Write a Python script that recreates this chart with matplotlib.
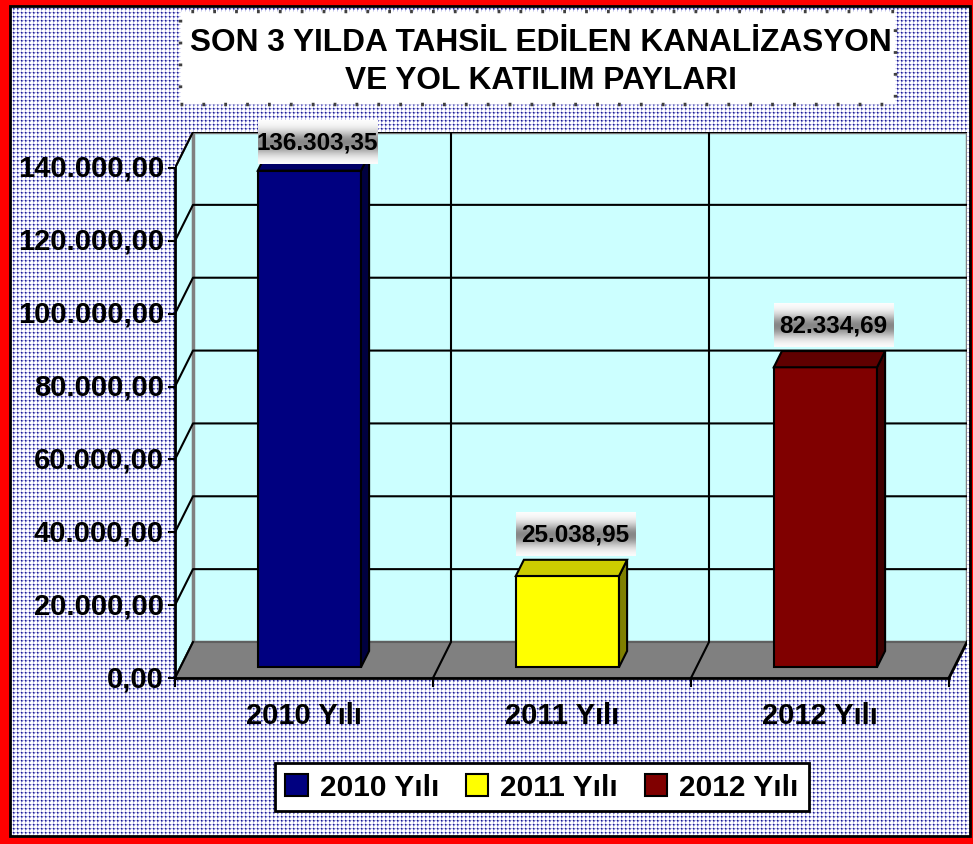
import numpy as np
import matplotlib.pyplot as plt
from matplotlib.patches import Polygon, Rectangle, Patch

plt.rcParams['font.family'] = ['Liberation Sans', 'DejaVu Sans']

# data
years = ['2010 Yılı', '2011 Yılı', '2012 Yılı']
values = [136303.35, 25038.95, 82334.69]
yticks = [0, 20000, 40000, 60000, 80000, 100000, 120000, 140000]
title = 'SON 3 YILDA TAHSİL EDİLEN KANALİZASYON\nVE YOL KATILIM PAYLARI'

colors = ['#000080', '#FFFF00', '#800000']
side_colors = ['#000040', '#808000', '#400000']
top_colors = ['#000066', '#cccc00', '#600000']
wall = '#CCFFFF'


def tr_num(v):
    s = f'{v:,.2f}'
    return s.replace(',', 'X').replace('.', ',').replace('X', '.')


W, H = 973, 845
fig = plt.figure(figsize=(W / 100, H / 100), dpi=100)


def fx(px):
    return px / W


def fy(py):
    return 1 - py / H


# dotted background
tile = np.ones((4, 4, 3))
tile[0, 1] = tile[1, 0] = tile[1, 3] = tile[3, 1] = (0.78, 0.78, 0.93)
tile[1, 1] = (0.12, 0.12, 0.55)
tile[1, 2] = tile[2, 1] = (0.45, 0.45, 0.78)
tile[2, 2] = (0.65, 0.65, 0.88)
bg = np.tile(tile, (H // 4 + 1, W // 4 + 1, 1))[:H, :W]
fig.figimage(bg, 0, 0, zorder=-1)

# plot area in pixels: front axis x=175, floor front y=679, back wall top y=133
n = len(values)
ymax = yticks[-1]
px_x = 258.0                 # pixels per category
px_y = 510.0 / ymax          # pixels per value unit
DX = 18 / px_x
DY = 36 / px_y

ax = fig.add_axes([fx(175), fy(679), (967 - 175) / W, (679 - 133) / H])
ax.set_axis_off()
xlim = (0, n + DX)
ylim = (0, ymax + DY)

# walls and floor
ax.add_patch(Polygon([(0, 0), (DX, DY), (DX, ymax + DY), (0, ymax)],
                     fc=wall, ec='#808080', lw=1.5, zorder=1))
ax.add_patch(Rectangle((DX, DY), n, ymax, fc=wall, ec='#808080', lw=2.5, zorder=1))
ax.add_patch(Polygon([(0, 0), (n, 0), (n + DX, DY), (DX, DY)],
                     fc='#808080', ec='#606060', lw=1.5, zorder=1.5))

for v in yticks[1:]:
    ax.plot([0, DX, n + DX], [v, v + DY, v + DY], color='k', lw=1.5, zorder=2)
for i in range(1, n):
    ax.plot([i, i + DX, i + DX], [0, DY, ymax + DY], color='k', lw=1.5, zorder=2)

# axes lines
ax.plot([0, 0], [0, ymax], color='k', lw=2, zorder=2, clip_on=False)
ax.plot([0, n], [0, 0], color='k', lw=2, zorder=2, clip_on=False)
ax.plot([0, DX], [0, DY], color='k', lw=1.5, zorder=2)
ax.plot([n, n + DX], [0, DY], color='k', lw=2, zorder=2)
for v in yticks:
    ax.plot([-6 / px_x, 0], [v, v], color='k', lw=1.5, clip_on=False)
    ax.text(-11 / px_x, v, tr_num(v), ha='right', va='center', fontsize=21,
            fontweight='bold', clip_on=False)
for i in range(n + 1):
    ax.plot([i, i], [0, -8 / px_y], color='k', lw=1.5, clip_on=False)
for i, lab in enumerate(years):
    ax.text(i + 0.5, -37 / px_y, lab, ha='center', va='center', fontsize=21,
            fontweight='bold', clip_on=False)

# bars
w = 0.4
bdx, bdy = 0.45 * DX, 0.45 * DY
grad_t = np.linspace(0, 1, 44)
grad = 1 - 0.47 * np.exp(-((grad_t - 0.52) / 0.27) ** 2)
grad_img = np.repeat(grad[:, None], 10, axis=1)
for i, v in enumerate(values):
    x0 = i + 0.5 - w / 2 + 0.3 * DX
    y0 = 0.3 * DY
    ax.add_patch(Rectangle((x0, y0), w, v, fc=colors[i], ec='k', lw=1.5, zorder=3))
    ax.add_patch(Polygon([(x0 + w, y0), (x0 + w + bdx, y0 + bdy),
                          (x0 + w + bdx, y0 + bdy + v), (x0 + w, y0 + v)],
                         fc=side_colors[i], ec='k', lw=1.5, zorder=3))
    ax.add_patch(Polygon([(x0, y0 + v), (x0 + bdx, y0 + v + bdy),
                          (x0 + w + bdx, y0 + v + bdy), (x0 + w, y0 + v)],
                         fc=top_colors[i], ec='k', lw=1.5, zorder=3))
    # value label with grey gradient box
    cx = x0 + w / 2 + bdx
    cy = min(y0 + bdy + v + 26 / px_y, ymax + DY - 10 / px_y)
    hw, hh = 60 / px_x, 22 / px_y
    ax.imshow(grad_img, cmap='gray', vmin=0, vmax=1, aspect='auto',
              extent=(cx - hw, cx + hw, cy - hh, cy + hh), zorder=4,
              interpolation='bilinear', clip_on=False)
    ax.text(cx, cy, tr_num(v), ha='center', va='center', fontsize=17.5,
            fontweight='bold', zorder=5, clip_on=False)

ax.set_xlim(xlim)
ax.set_ylim(ylim)

# title box
fig.patches.append(Rectangle((fx(180), fy(105)), fx(895) - fx(180), fy(12) - fy(105),
                             transform=fig.transFigure, fc='white', ec='#404040',
                             lw=2.5, ls=(0, (0.8, 5.5)), zorder=4))
fig.text(fx(541), fy(62), title, ha='center', va='center', fontsize=22.8,
         fontweight='bold', linespacing=1.38, zorder=5)

# legend
handles = [Patch(fc=c, ec='k', lw=1.5) for c in colors]
leg = fig.legend(handles, years, loc='center', bbox_to_anchor=(fx(542), fy(788)),
                 ncol=3, prop={'weight': 'bold', 'size': 21.5}, frameon=True,
                 fancybox=False, edgecolor='k', framealpha=1, handlelength=0.75,
                 handleheight=0.75, handletextpad=0.4, columnspacing=0.9,
                 borderpad=0.35)
leg.get_frame().set_linewidth(2)

# red frame
for (x, y, ww, hh) in [(0, 0, 10, H), (0, 0, W, 7), (0, 837, W, 8), (970, 0, 3, H)]:
    fig.patches.append(Rectangle((fx(x), fy(y + hh)), ww / W, hh / H,
                                 transform=fig.transFigure, fc='red', ec='none', zorder=10))
fig.patches.append(Rectangle((fx(10), fy(837)), fx(970) - fx(10), fy(7) - fy(837),
                             transform=fig.transFigure, fill=False, ec='k', lw=2, zorder=10))

fig.savefig('out.png', dpi=100)
